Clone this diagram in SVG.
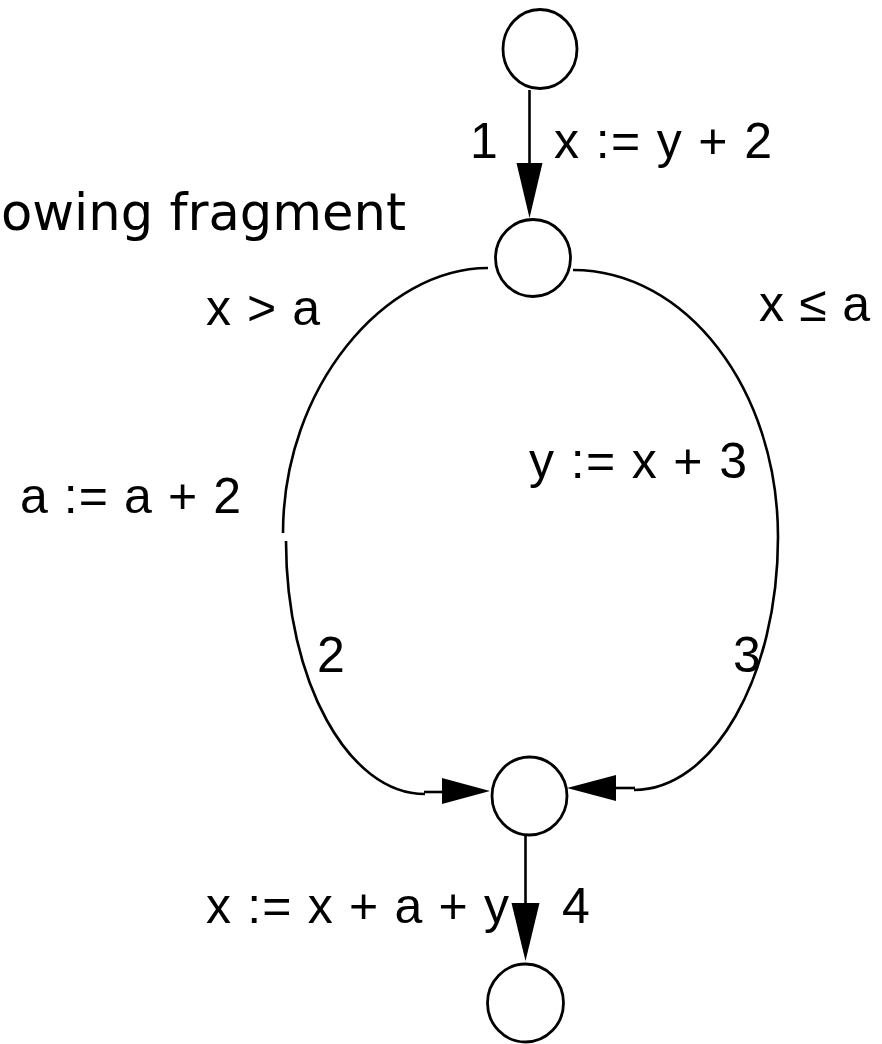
<svg xmlns="http://www.w3.org/2000/svg" width="882" height="1044" viewBox="0 0 882 1044">
<style>
.node{fill:#fff;stroke:#000;stroke-width:2.8}
.edge{fill:none;stroke:#000;stroke-width:2.6}
.head{fill:#000;stroke:none}
.lbl{font-family:"Liberation Sans",Arial,sans-serif;font-size:50px;fill:#000}
.title{font-family:"DejaVu Sans",Verdana,sans-serif;font-size:51px;fill:#000}
</style>
<rect width="882" height="1044" fill="#fff"/>
<text class="title" x="1" y="230" textLength="405" lengthAdjust="spacingAndGlyphs">owing fragment</text>
<g id="connectors">
  <g id="e1">
    <line class="edge" x1="529.5" y1="90" x2="529.5" y2="164"/>
    <polygon class="head" points="516.5,163 542.5,163 529.5,218"/>
  </g>
  <g id="e2">
    <path class="edge" d="M488,268 C385,268 283,387 283,533"/>
    <path class="edge" d="M286,541 C286,681 348,794 425,794"/>
    <line class="edge" x1="424" y1="792" x2="443" y2="792"/>
    <polygon class="head" points="442,778 442,804 490,791"/>
  </g>
  <g id="e3">
    <path class="edge" d="M573,270 C686,270 778,389 778,537"/>
    <path class="edge" d="M778,537 C778,677 713,790 634,790"/>
    <line class="edge" x1="615" y1="788" x2="635" y2="788"/>
    <polygon class="head" points="616,775 616,801 567,788"/>
  </g>
  <g id="e4">
    <line class="edge" x1="525.5" y1="835" x2="525.5" y2="904"/>
    <polygon class="head" points="511.5,903 539.5,903 525.5,961"/>
  </g>
</g>
<g id="n1"><ellipse class="node" cx="540" cy="49" rx="37" ry="39.5"/></g>
<g id="n2"><ellipse class="node" cx="533" cy="258" rx="37.5" ry="38.5"/></g>
<g id="n3"><ellipse class="node" cx="529.5" cy="796" rx="37.5" ry="39"/></g>
<g id="n4"><ellipse class="node" cx="525.5" cy="1003" rx="38" ry="39"/></g>
<g id="labels">
  <text class="lbl" x="470" y="158">1</text>
  <text class="lbl" x="554" y="158" textLength="218" lengthAdjust="spacing">x := y + 2</text>
  <text class="lbl" x="206" y="325" textLength="114" lengthAdjust="spacing">x &gt; a</text>
  <text class="lbl" x="759" y="321" textLength="111" lengthAdjust="spacing">x ≤ a</text>
  <text class="lbl" x="20" y="513" textLength="221" lengthAdjust="spacing">a := a + 2</text>
  <text class="lbl" x="529" y="478" textLength="218" lengthAdjust="spacing">y := x + 3</text>
  <text class="lbl" x="317" y="672">2</text>
  <text class="lbl" x="733" y="672">3</text>
  <text class="lbl" x="206" y="923" textLength="303" lengthAdjust="spacing">x := x + a + y</text>
  <text class="lbl" x="562" y="923">4</text>
</g>
</svg>
